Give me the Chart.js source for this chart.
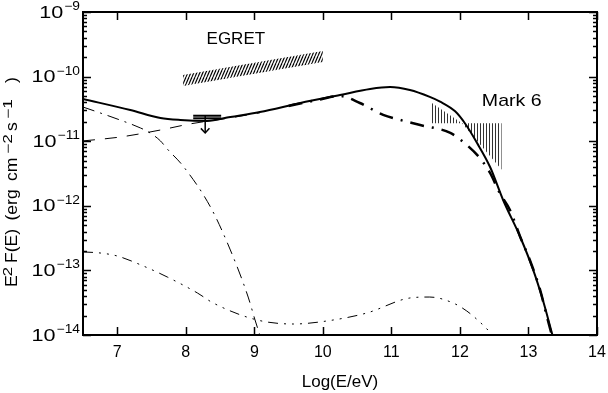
<!DOCTYPE html>
<html><head><meta charset="utf-8">
<script src="https://cdn.jsdelivr.net/npm/chart.js@4/dist/chart.umd.min.js"></script>
<style>html,body{margin:0;padding:0;background:#fff}canvas{display:block}</style>
</head><body>
<canvas id="c" width="608" height="393"></canvas>
<script>
// ---- axis ticks ----
const xTicks = [7, 8, 9, 10, 11, 12, 13, 14];
const yDecades = [-14, -13, -12, -11, -10, -9];

// ---- total spectrum (solid) ----
const totalE = [6.5, 7.19, 7.63, 7.92, 8.31, 8.65, 9.08, 9.67, 10.25, 10.69, 10.98, 11.27, 11.56, 11.71, 11.93, 12.07, 12.25, 12.44, 12.63, 12.88, 13.07, 13.21, 13.35];
const totalF = [4.5e-11, 3.04e-11, 2.29e-11, 2.13e-11, 2.06e-11, 2.37e-11, 2.83e-11, 3.9e-11, 5.19e-11, 6.43e-11, 6.9e-11, 6.2e-11, 4.85e-11, 4.1e-11, 2.9e-11, 1.91e-11, 9.38e-12, 3.99e-12, 1.23e-12, 3.29e-13, 1.01e-13, 3.48e-14, 1.0e-14];

// ---- long-dashed component (low energy part) ----
const dashE = [6.5, 7.04, 7.63, 8.06, 8.65, 9.08];
const dashF = [1.01e-11, 1.16e-11, 1.49e-11, 1.85e-11, 2.3e-11, 2.75e-11];

// ---- thick dash-dot component ----
const dashDotE = [9.5, 9.9, 10.25, 10.54, 10.88, 11.13, 11.42, 11.86, 12.10, 12.29, 12.44, 12.58, 12.73, 12.88, 13.02, 13.17, 13.27, 13.34];
const dashDotF = [3.5e-11, 4.3e-11, 5.0e-11, 3.9e-11, 2.55e-11, 2.13e-11, 1.78e-11, 1.34e-11, 8.73e-12, 5.49e-12, 3.22e-12, 1.58e-12, 8.61e-13, 3.29e-13, 1.45e-13, 4.98e-14, 1.9e-14, 1.0e-14];

// ---- thin dash-dot component (steeply falling) ----
const synE = [6.5, 6.75, 7.04, 7.34, 7.48, 7.63, 7.73, 7.96, 8.36, 8.65, 8.91, 9.01, 9.08];
const synF = [3.38e-11, 2.74e-11, 2.13e-11, 1.6e-11, 1.34e-11, 1.01e-11, 7.57e-12, 4.13e-12, 9.58e-13, 2.07e-13, 3.87e-14, 1.71e-14, 1.0e-14];

// ---- thin dash-dot-dot component (lowest) ----
const lowE = [6.5, 6.75, 7.0, 7.38, 7.73, 8.17, 8.40, 9.04, 9.57, 10.06, 10.64, 11.27, 11.56, 11.90, 12.10, 12.29, 12.48];
const lowF = [1.93e-13, 1.86e-13, 1.67e-13, 1.17e-13, 7.9e-14, 4.47e-14, 3.13e-14, 1.71e-14, 1.48e-14, 1.65e-14, 2.19e-14, 3.74e-14, 3.87e-14, 3.13e-14, 2.35e-14, 1.59e-14, 1.0e-14];

// ---- EGRET band ----
const egretE = [7.96, 10.0];
const egretLowF = [7.16e-11, 1.68e-10];
const egretHighF = [1.06e-10, 2.49e-10];

// ---- Mark 6 butterfly ----
const mark6E = [11.59, 12.03, 12.61];
const mark6LowF = [1.9e-11, 1.9e-11, 3.6e-12];
const mark6HighF = [3.9e-11, 1.9e-11, 1.9e-11];

// ---- upper limit marker ----
const ulE = [8.108, 8.516];
const ulStemE = 8.283;
const ulBarF = [2.48e-11, 2.26e-11];
const ulTipF = 1.34e-11;
const ulHeadE = [8.22, 8.283, 8.345];
const ulHeadF = [1.58e-11, 1.34e-11, 1.58e-11];

// ---- text labels (data coordinates) ----
const labelEgret = {text: 'EGRET', x: 8.73, y: 3.2e-10};
const labelMark6 = {text: 'Mark 6', x: 12.32, y: 3.5e-11};
const xTitle = 'Log(E/eV)';

const pts = (E, F) => E.map((e, i) => ({x: e, y: F[i]}));

const canvas = document.getElementById('c');
const ctx0 = canvas.getContext('2d');

function diagPattern() {
  const c = document.createElement('canvas');
  c.width = 3; c.height = 7;
  const g = c.getContext('2d');
  g.strokeStyle = '#000'; g.lineWidth = 1.1;
  for (let k = -1; k <= 1; k++) {
    g.beginPath(); g.moveTo(k * 3, 7); g.lineTo(k * 3 + 3, 0); g.stroke();
  }
  return ctx0.createPattern(c, 'repeat');
}
function vertPattern() {
  const c = document.createElement('canvas');
  c.width = 3; c.height = 1;
  const g = c.getContext('2d');
  g.fillStyle = '#333'; g.fillRect(0, 0, 1, 1);
  return ctx0.createPattern(c, 'repeat');
}

const base = {pointRadius: 0, borderColor: '#000', backgroundColor: 'transparent', fill: false, cubicInterpolationMode: 'monotone'};

const datasets = [
  Object.assign({}, base, {data: pts(totalE, totalF), borderWidth: 2}),
  Object.assign({}, base, {data: pts(dashE, dashF), borderWidth: 1, borderDash: [12, 10]}),
  Object.assign({}, base, {data: pts(dashDotE, dashDotF), borderWidth: 2.5, borderDash: [14, 8, 2, 8]}),
  Object.assign({}, base, {data: pts(synE, synF), borderWidth: 1, borderDash: [12, 6, 2, 6]}),
  Object.assign({}, base, {data: pts(lowE, lowF), borderWidth: 1, borderDash: [10, 6, 2, 6, 2, 6, 2, 6]}),
  Object.assign({}, base, {data: pts(egretE, egretLowF), borderWidth: 0, tension: 0, cubicInterpolationMode: 'default'}),
  Object.assign({}, base, {data: pts(egretE, egretHighF), borderWidth: 0, tension: 0, cubicInterpolationMode: 'default', fill: '-1', backgroundColor: diagPattern()}),
  Object.assign({}, base, {data: pts(mark6E, mark6LowF), borderWidth: 0, tension: 0, cubicInterpolationMode: 'default'}),
  Object.assign({}, base, {data: pts(mark6E, mark6HighF), borderWidth: 0, tension: 0, cubicInterpolationMode: 'default', fill: '-1', backgroundColor: vertPattern()}),
  Object.assign({}, base, {data: pts(ulE, [ulBarF[0], ulBarF[0]]), borderWidth: 2, tension: 0}),
  Object.assign({}, base, {data: pts(ulE, [ulBarF[1], ulBarF[1]]), borderWidth: 2, tension: 0}),
  Object.assign({}, base, {data: pts([ulStemE, ulStemE], [ulBarF[0], ulTipF]), borderWidth: 1.5, tension: 0, cubicInterpolationMode: 'default'}),
  Object.assign({}, base, {data: pts(ulHeadE, ulHeadF), borderWidth: 1.5, tension: 0, cubicInterpolationMode: 'default'})
];

const FONT = '"Liberation Sans", Arial, sans-serif';

const decor = {
  id: 'decor',
  afterDraw(chart) {
    const ctx = chart.ctx, a = chart.chartArea;
    const xs = chart.scales.x, ys = chart.scales.y;
    ctx.save();
    ctx.strokeStyle = '#000';
    ctx.fillStyle = '#000';
    // ticks
    ctx.lineWidth = 1.5;
    ctx.beginPath();
    xTicks.forEach(t => {
      const px = Math.round(xs.getPixelForValue(t)) + 0.5;
      ctx.moveTo(px, a.bottom); ctx.lineTo(px, a.bottom - 8);
      ctx.moveTo(px, a.top); ctx.lineTo(px, a.top + 8);
    });
    yDecades.forEach((d, i) => {
      const py = Math.round(ys.getPixelForValue(Math.pow(10, d))) + 0.5;
      ctx.moveTo(a.left, py); ctx.lineTo(a.left + 8, py);
      ctx.moveTo(a.right, py); ctx.lineTo(a.right - 8, py);
      if (i < yDecades.length - 1) {
        for (let m = 2; m <= 9; m++) {
          const q = Math.round(ys.getPixelForValue(m * Math.pow(10, d))) + 0.5;
          ctx.moveTo(a.left, q); ctx.lineTo(a.left + 4, q);
          ctx.moveTo(a.right, q); ctx.lineTo(a.right - 4, q);
        }
      }
    });
    ctx.stroke();
    // frame
    ctx.lineWidth = 2;
    ctx.strokeRect(a.left, a.top, a.right - a.left, a.bottom - a.top);

    // x tick labels
    ctx.font = '16px ' + FONT;
    ctx.textAlign = 'center';
    ctx.textBaseline = 'alphabetic';
    xTicks.forEach(t => ctx.fillText(String(t), xs.getPixelForValue(t), 357));

    // y tick labels 10^d
    yDecades.forEach(d => {
      const py = ys.getPixelForValue(Math.pow(10, d));
      const expTxt = '\u2212' + String(-d);
      ctx.font = '12px ' + FONT;
      const we = ctx.measureText(expTxt).width * 1.15;
      ctx.font = '16px ' + FONT;
      const wb = ctx.measureText('10').width * 1.35;
      const right = 80;
      ctx.save();
      ctx.textAlign = 'left';
      ctx.translate(right - we - wb - 1, py + 5.5);
      ctx.scale(1.35, 1);
      ctx.fillText('10', 0, 0);
      ctx.restore();
      ctx.save();
      ctx.textAlign = 'left';
      ctx.font = '12px ' + FONT;
      ctx.translate(right - we, py - 2);
      ctx.scale(1.15, 1);
      ctx.fillText(expTxt, 0, 0);
      ctx.restore();
    });

    // x title
    ctx.font = '17px ' + FONT;
    ctx.textAlign = 'center';
    ctx.fillText(xTitle, (a.left + a.right) / 2, 387);

    // y title (rotated, with superscripts)
    ctx.save();
    ctx.translate(16.5, 287);
    ctx.rotate(-Math.PI / 2);
    ctx.textAlign = 'left';
    const pieces = [
      ['E', 0, false], ['2', 10.5, true], ['F(E) (erg cm', 24, false],
      ['\u22122', 133, true], ['s', 156, false], ['\u22121', 168, true], [')', 204, false]
    ];
    pieces.forEach(([t, off, sup]) => {
      ctx.save();
      ctx.font = (sup ? '12px ' : '16px ') + FONT;
      try { ctx.wordSpacing = sup ? '0px' : '3px'; } catch (e) {}
      ctx.translate(off, sup ? -4.5 : 0);
      ctx.scale(sup ? 1.45 : 1.1, 1);
      ctx.fillText(t, 0, 0);
      ctx.restore();
    });
    ctx.restore();

    // annotations
    ctx.font = '17px ' + FONT;
    ctx.textAlign = 'center';
    ctx.fillText(labelEgret.text, xs.getPixelForValue(labelEgret.x), ys.getPixelForValue(labelEgret.y));
    ctx.save();
    ctx.textAlign = 'left';
    ctx.translate(xs.getPixelForValue(labelMark6.x), ys.getPixelForValue(labelMark6.y));
    ctx.scale(1.15, 1);
    ctx.fillText(labelMark6.text, 0, 0);
    ctx.restore();
    ctx.restore();
  }
};

new Chart(canvas, {
  type: 'line',
  data: {datasets},
  options: {
    responsive: false,
    animation: false,
    devicePixelRatio: 1,
    layout: {padding: {left: 83, top: 12, right: 11, bottom: 58}},
    plugins: {legend: {display: false}, tooltip: {enabled: false}},
    scales: {
      x: {type: 'linear', min: 6.5, max: 14, display: false},
      y: {type: 'logarithmic', min: 1e-14, max: 1e-9, display: false}
    }
  },
  plugins: [decor]
});
</script>
</body></html>
